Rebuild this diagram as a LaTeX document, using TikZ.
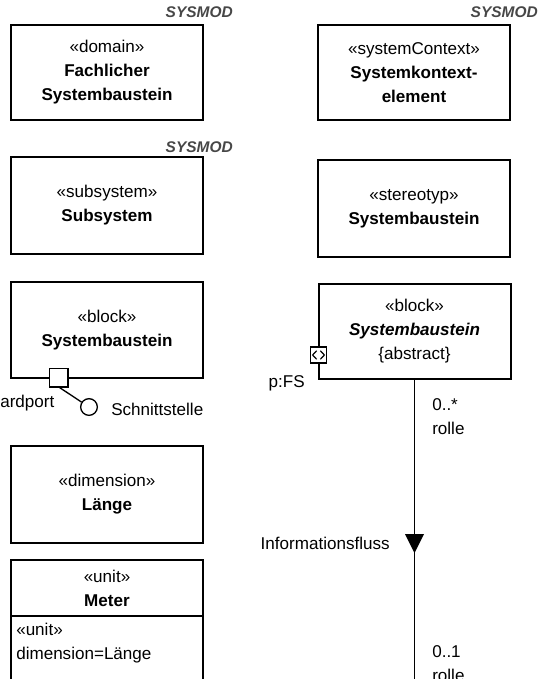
\documentclass[tikz,border=0pt]{standalone}
\usepackage{fontspec}
\setmainfont{Liberation Sans}
\begin{document}
\begin{tikzpicture}[x=0.75pt,y=-0.75pt,
  umlbox/.style={draw, line width=1.5pt, minimum width=144pt, inner sep=0pt, outer sep=0pt, align=center,
    font=\fontsize{12.8}{18}\selectfont},
  lbl/.style={inner sep=0pt, font=\fontsize{12.8}{18}\selectfont},
  sysmod/.style={inner sep=0pt, anchor=east, text=black!72, font=\fontsize{11.6}{14}\selectfont\bfseries\itshape},
  conn/.style={line width=1.2pt},
  portsq/.style={draw, fill=white, line width=1pt, inner sep=0pt, outer sep=0pt}
]
\useasboundingbox (0,0) rectangle (547,679);

% left column
\node[sysmod] (s1) at (233,12) {SYSMOD};
\node[umlbox, minimum height=71.25pt] (dom) at (107,72.5) {«domain»\\\textbf{Fachlicher}\\\textbf{Systembaustein}};

\node[sysmod] (s2) at (233,147) {SYSMOD};
\node[umlbox, minimum height=72.75pt] (sub) at (107,205.5) {«subsystem»\\\textbf{Subsystem}};

\node[umlbox, minimum height=72pt] (blk) at (107,330) {«block»\\\textbf{Systembaustein}};
\node[portsq, minimum size=14pt] (port) at (58.5,377.5) {};
\node[draw, circle, line width=1pt, minimum size=12.5pt, inner sep=0pt] (iface) at (89,407) {};
\draw[line width=1pt] (port.south) -- (iface);
\node[lbl, anchor=west] (sport) at (0,403) {ardport};
\node[lbl, anchor=west] (schn) at (111,409) {Schnittstelle};

\node[umlbox, minimum height=72.75pt] (dim) at (107,494.5) {«dimension»\\\textbf{Länge}};

\node[umlbox, minimum height=42pt] (mhead) at (107,588) {«unit»\\\textbf{Meter}};
\coordinate (mbl) at (11,680);
\coordinate (mbr) at (203,680);
\draw[line width=1.5pt] (mhead.south west) -- (mbl);
\draw[line width=1.5pt] (mhead.south east) -- (mbr);
\node[lbl, anchor=west, align=left] (mcomp) at (16,643) {«unit»\\dimension=Länge};

% right column
\node[sysmod] (s3) at (538,12) {SYSMOD};
\node[umlbox, minimum height=71.25pt] (ctx) at (414,72.5) {«systemContext»\\\textbf{Systemkontext-}\\\textbf{element}};

\node[umlbox, minimum height=72.75pt] (ster) at (414,208.5) {«stereotyp»\\\textbf{Systembaustein}};

\node[umlbox, minimum height=71.25pt] (abs) at (414.5,331.5) {«block»\\\textbf{\itshape Systembaustein}\\\{abstract\}};
\node[portsq, minimum size=12pt] (fp) at (abs.west |- 0,355) {};
\draw[line width=0.9pt] ([xshift=-1.4pt,yshift=3.2pt]fp.center) -- ++(-3pt,-3.2pt) -- ++(3pt,-3.2pt);
\draw[line width=0.9pt] ([xshift=1.4pt,yshift=3.2pt]fp.center) -- ++(3pt,-3.2pt) -- ++(-3pt,-3.2pt);
\node[lbl, anchor=east] (pfs) at (305,383) {p:FS};

\coordinate (lineend) at (414.5,680);
\draw[conn] (abs.south) -- (lineend);
\coordinate (arr) at (414.5,543.5);
\fill (arr) ++(-9.5,-9.5) -- ++(19,0) -- ++(-9.5,19) -- cycle;
\node[lbl, anchor=east] (iflow) at (390,543) {Informationsfluss};

\node[lbl, anchor=west, align=left] (m1) at (432,417) {0..*\\rolle};
\begin{scope}
\clip (0,0) rectangle (547,679);
\node[lbl, anchor=west, align=left] (m2) at (432,664) {0..1\\rolle};
\end{scope}
\end{tikzpicture}
\end{document}
